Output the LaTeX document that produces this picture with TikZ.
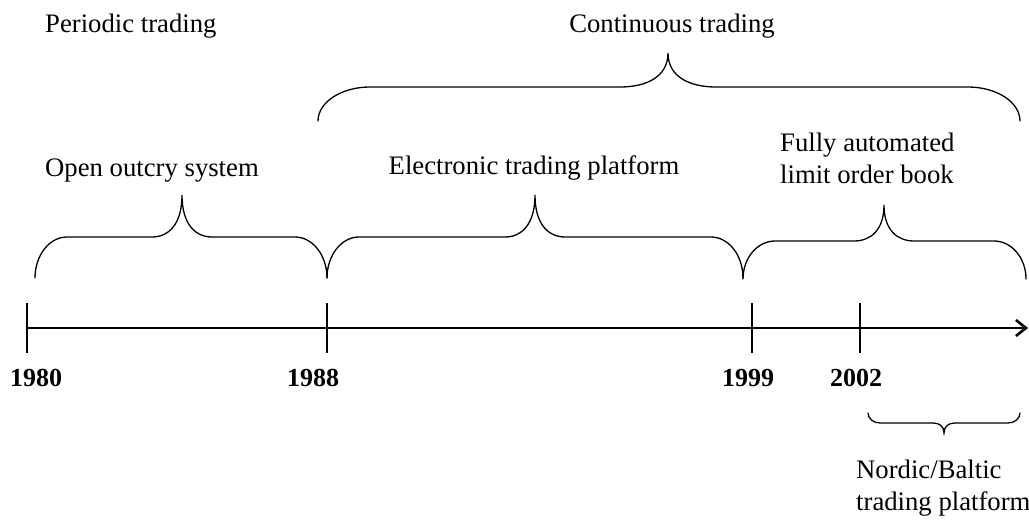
\documentclass[tikz,border=0pt]{standalone}
\usepackage{fontspec}
\setmainfont{Liberation Serif}
\usetikzlibrary{arrows.meta}

\tikzset{
  lbl/.style={font=\fontsize{26.7}{32}\selectfont, inner sep=0pt},
  yearlbl/.style={font=\fontsize{26}{32}\selectfont\bfseries, inner sep=0pt, anchor=base},
  bracestroke/.style={line width=1.3pt, line cap=round},
  tickmark/.style={line width=1.2pt},
  axisline/.style={line width=2.8pt, -{Straight Barb[length=10pt,width=16pt,line width=2.6pt]}},
}

% curly brace: x-left, x-right, x-tip, y-ends, y-flat, y-tip, end radius, tip radius
\newcommand\curlybrace[8]{%
  \draw[bracestroke]
    (#1,#4) .. controls (#1,{#4+0.552*(#5-#4)}) and ({#1+0.448*#7},#5) .. ({#1+#7},#5)
    -- ({#3-#8},#5)
    .. controls ({#3-0.448*#8},#5) and (#3,{#5+0.3*(#6-#5)}) .. (#3,#6)
    .. controls (#3,{#5+0.3*(#6-#5)}) and ({#3+0.448*#8},#5) .. ({#3+#8},#5)
    -- ({#2-#7},#5)
    .. controls ({#2-0.448*#7},#5) and (#2,{#4+0.552*(#5-#4)}) .. (#2,#4);
}

\begin{document}
\begin{tikzpicture}[x=1pt,y=1pt]
  \useasboundingbox[fill=white] (0,0) rectangle (1029,522);

  % time axis
  \coordinate (axstart) at (27,194);
  \coordinate (axend) at (1028,194);
  \draw[axisline] (axstart) -- (axend);

  % year ticks
  \foreach \nm/\x in {t80/27, t88/327, t99/752, t02/860}{
    \coordinate (\nm top) at (\x,219);
    \coordinate (\nm bot) at (\x,169);
    \draw[tickmark] (\nm top) -- (\nm bot);
  }

  % year labels
  \node[yearlbl] (y80) at (36,135) {1980};
  \node[yearlbl] (y88) at (313,135) {1988};
  \node[yearlbl] (y99) at (748,135) {1999};
  \node[yearlbl] (y02) at (856,135) {2002};

  % braces over the periods
  \curlybrace{35}{327}{182}{244}{285}{327}{32}{30}
  \curlybrace{327}{743}{535}{244}{285}{327}{32}{30}
  \curlybrace{743}{1026}{884}{243}{281}{317}{32}{30}
  \curlybrace{318}{1020}{668}{401}{435}{469}{52}{48}
  \curlybrace{868}{1020}{944}{109}{99}{89}{12}{11}

  % period labels
  \node[lbl, anchor=base west] (periodic) at (45,489) {Periodic trading};
  \node[lbl, anchor=base] (continuous) at (672,489) {Continuous trading};
  \node[lbl, anchor=base] (outcry) at (152,345) {Open outcry system};
  \node[lbl, anchor=base] (electronic) at (534,347) {Electronic trading platform};
  \node[lbl, anchor=north west, align=left] (lob) at (780,389) {Fully automated\\limit order book};
  \node[lbl, anchor=north west, align=left] (nordic) at (856,62) {Nordic/Baltic\\trading platform};
\end{tikzpicture}
\end{document}
